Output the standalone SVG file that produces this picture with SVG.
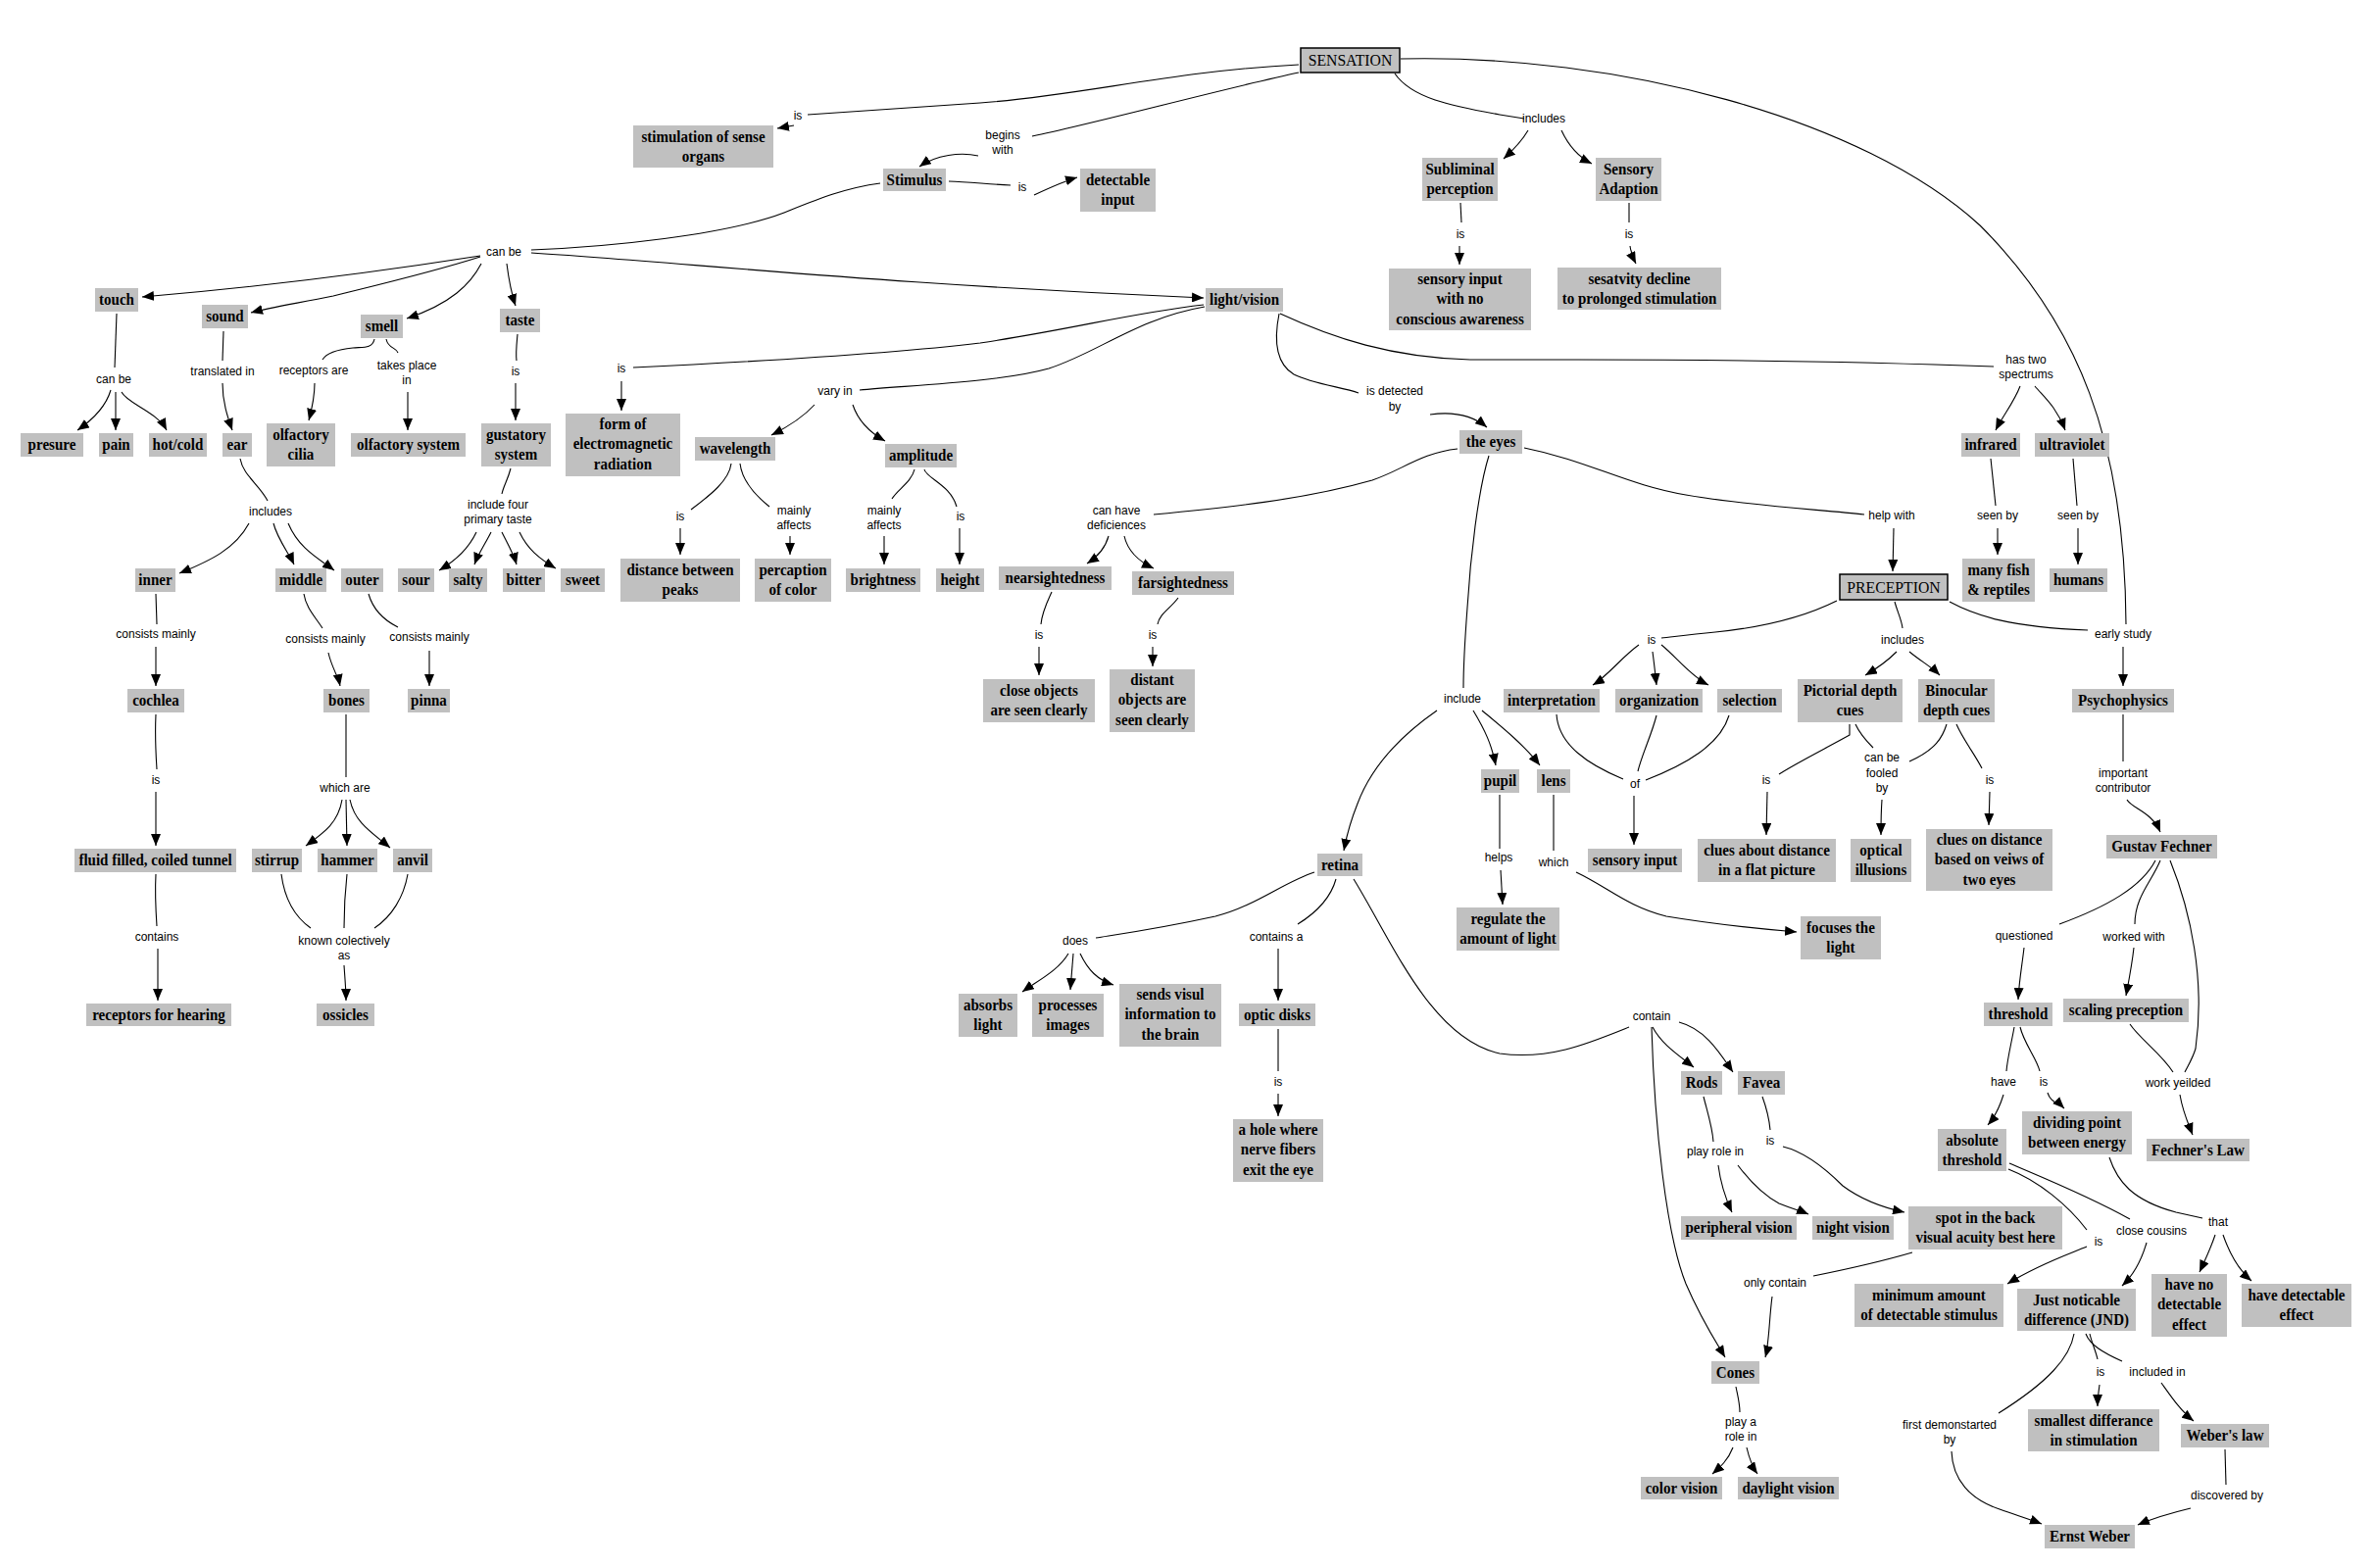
<svg xmlns="http://www.w3.org/2000/svg" width="2421" height="1600" viewBox="0 0 2421 1600">
<style>
.c{fill:none;stroke:#000;stroke-width:1.1}
.a{marker-end:url(#ah)}
.n rect{fill:#c0c0c0}
.n text{font-family:"Liberation Serif","Times New Roman",serif;font-weight:bold;font-size:17.5px;text-anchor:middle;fill:#000;transform-box:fill-box;transform-origin:center;transform:scaleX(0.86)}
.k rect{stroke:#000;stroke-width:1.5}
.k text{font-weight:normal;font-size:17.5px;transform:scaleX(0.9)}
.l{font-family:"Liberation Sans",Arial,sans-serif;font-size:12px;text-anchor:middle;fill:#000}
</style>
<defs>
<marker id="ah" viewBox="0 0 12 10" refX="12" refY="5" markerWidth="12" markerHeight="10" markerUnits="userSpaceOnUse" orient="auto"><path d="M0,0 L12,5 L0,10 z" fill="#000"/></marker>
</defs>
<rect width="2421" height="1600" fill="#fff"/>
<g id="connectors">
<path class="c" d="M1325,66 C1200,72 1100,98 1000,105 C900,112 860,115 824,117"/>
<path class="c a" d="M810,128 L793,131"/>
<path class="c" d="M1325,74 C1250,90 1120,125 1053,139"/>
<path class="c a" d="M998,159 C980,155 955,158 938,170"/>
<path class="c" d="M1423,75 C1440,100 1480,108 1530,117 L1555,121"/>
<path class="c a" d="M1559,133 C1552,145 1545,152 1534,162"/>
<path class="c a" d="M1593,133 C1600,148 1610,160 1624,167"/>
<path class="c" d="M1429,60 C1650,55 1900,120 2020,230 C2120,330 2168,450 2169,637"/>
<path class="c" d="M968,185 C990,186 1010,188 1031,189"/>
<path class="c a" d="M1055,199 C1070,192 1085,185 1099,181"/>
<path class="c" d="M898,187 C860,192 830,205 800,217 C740,240 620,252 542,255"/>
<path class="c a" d="M542,258 C700,268 900,290 1228,304"/>
<path class="c a" d="M490,261 C420,272 300,290 145,303"/>
<path class="c a" d="M490,262 C440,278 380,292 340,302 C300,310 275,314 256,319"/>
<path class="c a" d="M491,269 C480,290 460,310 415,325"/>
<path class="c a" d="M517,269 C519,285 522,300 526,312"/>
<path class="c" d="M119,320 L117,375"/>
<path class="c a" d="M113,398 C108,415 95,428 79,439"/>
<path class="c a" d="M118,400 L118,439"/>
<path class="c a" d="M124,400 C130,412 160,420 170,439"/>
<path class="c" d="M228,338 L227,368"/>
<path class="c a" d="M227,391 C227,410 232,425 237,439"/>
<path class="c" d="M382,346 C380,356 370,354 360,355 C340,357 332,362 329,367"/>
<path class="c a" d="M321,391 C321,405 318,418 315,429"/>
<path class="c" d="M394,346 C396,356 404,354 406,360"/>
<path class="c a" d="M416,400 L416,439"/>
<path class="c" d="M528,341 C527,352 526,360 527,368"/>
<path class="c a" d="M526,391 L526,429"/>
<path class="c" d="M521,478 C518,490 514,495 512,504"/>
<path class="c a" d="M486,543 C478,560 465,572 448,582"/>
<path class="c a" d="M501,543 C495,555 488,565 484,576"/>
<path class="c a" d="M512,543 C518,555 524,565 527,576"/>
<path class="c a" d="M530,543 C538,560 550,570 567,580"/>
<path class="c" d="M245,468 C248,485 265,495 273,511"/>
<path class="c a" d="M254,534 C240,560 215,572 183,585"/>
<path class="c a" d="M279,534 C283,550 295,565 300,576"/>
<path class="c a" d="M294,534 C305,560 325,570 341,582"/>
<path class="c" d="M159,606 L160,637"/>
<path class="c a" d="M159,660 L159,700"/>
<path class="c" d="M310,606 C312,620 322,630 329,641"/>
<path class="c a" d="M335,666 C338,680 345,690 347,700"/>
<path class="c" d="M376,606 C380,620 390,632 406,640"/>
<path class="c a" d="M438,664 L438,700"/>
<path class="c" d="M159,729 C158,750 159,770 160,785"/>
<path class="c a" d="M159,808 L159,863"/>
<path class="c" d="M159,892 C158,910 159,930 160,945"/>
<path class="c a" d="M161,968 L161,1021"/>
<path class="c" d="M353,729 L353,793"/>
<path class="c a" d="M349,816 C345,840 330,850 312,863"/>
<path class="c a" d="M353,816 L354,863"/>
<path class="c a" d="M357,816 C362,840 380,850 398,865"/>
<path class="c" d="M287,892 C290,915 300,935 317,947"/>
<path class="c" d="M354,892 C352,910 351,930 351,947"/>
<path class="c" d="M416,892 C412,915 400,935 382,947"/>
<path class="c a" d="M351,985 C352,1000 353,1010 353,1021"/>
<path class="c" d="M1228,311 C1150,320 1100,335 1000,350 C900,362 750,370 646,375"/>
<path class="c a" d="M634,389 L634,419"/>
<path class="c" d="M1229,313 C1160,325 1120,360 1070,376 C1020,390 930,393 877,398"/>
<path class="c a" d="M831,413 C820,425 805,435 787,444"/>
<path class="c a" d="M870,413 C875,428 885,440 903,450"/>
<path class="c" d="M1305,320 C1300,345 1300,370 1320,382 C1340,392 1370,395 1386,401"/>
<path class="c a" d="M1459,423 C1480,420 1500,422 1517,436"/>
<path class="c" d="M1306,320 C1360,345 1420,365 1500,367 L1610,367 C1750,367 1900,369 2034,374"/>
<path class="c" d="M746,473 C744,490 725,505 705,520"/>
<path class="c a" d="M694,539 L694,566"/>
<path class="c" d="M755,473 C757,490 770,505 785,517"/>
<path class="c a" d="M806,547 L806,566"/>
<path class="c" d="M933,479 C930,492 915,500 910,509"/>
<path class="c a" d="M902,547 L902,576"/>
<path class="c" d="M943,479 C945,488 970,495 976,517"/>
<path class="c a" d="M979,539 L979,576"/>
<path class="c" d="M1487,458 C1450,462 1430,480 1400,490 C1330,510 1250,518 1177,525"/>
<path class="c a" d="M1131,547 C1128,558 1120,568 1109,575"/>
<path class="c a" d="M1147,547 C1150,560 1160,572 1177,580"/>
<path class="c" d="M1073,604 C1068,615 1063,625 1062,637"/>
<path class="c a" d="M1060,660 L1060,689"/>
<path class="c" d="M1202,610 C1195,620 1183,626 1181,637"/>
<path class="c a" d="M1176,660 L1176,680"/>
<path class="c" d="M1519,465 C1508,500 1500,570 1497,620 C1494,660 1493,685 1493,702"/>
<path class="c" d="M1555,457 C1620,470 1660,495 1720,505 C1790,517 1860,520 1902,525"/>
<path class="c a" d="M1932,539 L1931,583"/>
<path class="c a" d="M1466,725 C1430,750 1400,780 1385,820 C1375,845 1373,858 1371,868"/>
<path class="c a" d="M1503,725 C1515,745 1522,760 1526,781"/>
<path class="c a" d="M1512,725 C1530,740 1555,760 1571,781"/>
<path class="c" d="M1530,811 L1530,866"/>
<path class="c a" d="M1531,888 L1533,923"/>
<path class="c" d="M1585,811 L1585,868"/>
<path class="c a" d="M1608,890 C1640,905 1660,925 1700,935 C1760,945 1800,948 1833,951"/>
<path class="c" d="M1341,890 C1310,900 1280,925 1240,935 C1180,948 1150,952 1118,957"/>
<path class="c a" d="M1090,973 C1080,990 1060,1000 1043,1012"/>
<path class="c a" d="M1095,973 L1092,1010"/>
<path class="c a" d="M1102,973 C1110,990 1120,1000 1136,1005"/>
<path class="c" d="M1363,897 C1358,915 1345,930 1324,943"/>
<path class="c a" d="M1304,968 L1304,1021"/>
<path class="c" d="M1304,1050 L1304,1093"/>
<path class="c a" d="M1304,1116 L1304,1139"/>
<path class="c" d="M1381,897 C1420,960 1460,1060 1530,1075 C1580,1082 1620,1065 1662,1048"/>
<path class="c a" d="M1686,1048 C1695,1065 1710,1075 1728,1089"/>
<path class="c a" d="M1713,1043 C1740,1050 1755,1075 1768,1094"/>
<path class="c a" d="M1685,1048 C1688,1150 1700,1260 1720,1310 C1735,1345 1748,1365 1760,1385"/>
<path class="c" d="M1738,1119 C1742,1135 1747,1150 1748,1165"/>
<path class="c a" d="M1753,1189 C1755,1205 1760,1222 1767,1237"/>
<path class="c a" d="M1773,1189 C1785,1205 1800,1220 1815,1228 C1830,1234 1838,1236 1845,1239"/>
<path class="c" d="M1798,1119 C1802,1130 1805,1142 1806,1153"/>
<path class="c a" d="M1819,1170 C1840,1175 1860,1190 1880,1210 C1900,1225 1920,1232 1943,1237"/>
<path class="c" d="M1951,1278 C1910,1290 1875,1297 1850,1302"/>
<path class="c a" d="M1808,1323 C1805,1345 1805,1370 1801,1385"/>
<path class="c" d="M1771,1415 C1773,1425 1775,1432 1775,1441"/>
<path class="c a" d="M1768,1477 C1763,1490 1755,1497 1747,1504"/>
<path class="c a" d="M1782,1477 C1785,1490 1788,1497 1793,1504"/>
<path class="c" d="M1874,613 C1840,630 1800,640 1750,645 C1720,648 1705,650 1695,651"/>
<path class="c a" d="M1672,658 C1655,670 1640,690 1625,699"/>
<path class="c a" d="M1686,665 C1688,680 1689,690 1690,699"/>
<path class="c a" d="M1695,658 C1710,670 1725,690 1743,699"/>
<path class="c" d="M1588,729 C1590,760 1620,780 1656,795"/>
<path class="c" d="M1690,730 C1685,750 1675,770 1671,787"/>
<path class="c" d="M1764,730 C1755,760 1720,780 1679,796"/>
<path class="c a" d="M1667,812 L1667,862"/>
<path class="c" d="M1933,614 C1936,625 1940,632 1941,641"/>
<path class="c a" d="M1935,665 C1925,675 1915,682 1903,689"/>
<path class="c a" d="M1948,665 C1960,675 1970,680 1979,689"/>
<path class="c" d="M1887,739 L1887,750 C1860,765 1830,780 1815,790"/>
<path class="c a" d="M1803,808 L1802,852"/>
<path class="c" d="M1893,739 C1898,750 1905,757 1911,763"/>
<path class="c a" d="M1920,816 C1919,830 1919,840 1919,852"/>
<path class="c" d="M1986,739 C1982,752 1975,765 1948,777"/>
<path class="c" d="M1996,739 C2003,755 2015,770 2022,784"/>
<path class="c a" d="M2030,808 L2029,842"/>
<path class="c" d="M1989,614 C2015,628 2050,640 2130,643"/>
<path class="c a" d="M2166,660 L2166,700"/>
<path class="c" d="M2166,729 L2166,777"/>
<path class="c a" d="M2170,816 C2175,825 2195,828 2204,849"/>
<path class="c" d="M2199,878 C2185,905 2150,925 2101,943"/>
<path class="c a" d="M2065,967 C2063,985 2060,1000 2059,1020"/>
<path class="c" d="M2204,878 C2195,900 2178,915 2178,943"/>
<path class="c a" d="M2177,967 C2175,985 2172,1000 2169,1016"/>
<path class="c" d="M2214,878 C2235,930 2250,1000 2240,1070 C2237,1080 2232,1088 2229,1094"/>
<path class="c" d="M2173,1045 C2183,1060 2205,1075 2217,1094"/>
<path class="c a" d="M2224,1117 C2227,1135 2232,1145 2237,1158"/>
<path class="c" d="M2055,1048 C2052,1065 2048,1080 2047,1093"/>
<path class="c a" d="M2044,1117 C2040,1130 2035,1140 2028,1148"/>
<path class="c" d="M2061,1048 C2065,1065 2078,1080 2081,1093"/>
<path class="c a" d="M2089,1115 C2092,1125 2100,1125 2106,1131"/>
<path class="c" d="M2152,1181 C2160,1205 2175,1225 2220,1237 L2247,1243"/>
<path class="c a" d="M2260,1260 C2255,1275 2250,1285 2244,1298"/>
<path class="c a" d="M2268,1260 C2275,1280 2283,1295 2297,1307"/>
<path class="c" d="M2049,1193 C2080,1205 2110,1230 2129,1255"/>
<path class="c a" d="M2129,1272 C2110,1280 2080,1290 2048,1310"/>
<path class="c" d="M2050,1187 C2080,1200 2130,1220 2173,1244"/>
<path class="c a" d="M2190,1268 C2185,1285 2178,1300 2165,1312"/>
<path class="c" d="M2132,1361 C2134,1370 2138,1378 2140,1387"/>
<path class="c a" d="M2142,1413 C2141,1420 2140,1428 2140,1435"/>
<path class="c" d="M2128,1361 C2132,1372 2145,1380 2165,1389"/>
<path class="c a" d="M2205,1411 C2215,1425 2225,1440 2238,1450"/>
<path class="c" d="M2116,1361 C2112,1385 2090,1410 2039,1442"/>
<path class="c a" d="M1991,1481 C1992,1510 2010,1530 2040,1540 C2060,1547 2070,1550 2083,1555"/>
<path class="c" d="M2270,1479 L2271,1515"/>
<path class="c a" d="M2235,1539 C2210,1545 2195,1550 2181,1556"/>
<path class="c a" d="M2061,394 C2055,410 2043,425 2036,439"/>
<path class="c a" d="M2076,394 C2085,405 2098,415 2107,439"/>
<path class="c" d="M2031,468 L2036,516"/>
<path class="c a" d="M2038,539 L2038,566"/>
<path class="c" d="M2115,468 L2119,516"/>
<path class="c a" d="M2120,539 L2120,576"/>
<path class="c" d="M1490,207 L1491,227"/>
<path class="c a" d="M1489,251 L1489,270"/>
<path class="c" d="M1662,207 L1662,227"/>
<path class="c a" d="M1663,251 C1664,258 1666,263 1669,269"/>
</g>
<g id="link-labels" class="l">
<text x="814" y="122">is</text>
<text x="1023" y="142">begins</text><text x="1023" y="157">with</text>
<text x="1043" y="195">is</text>
<text x="1575" y="125">includes</text>
<text x="1490" y="243">is</text>
<text x="1662" y="243">is</text>
<text x="514" y="261">can be</text>
<text x="116" y="391">can be</text>
<text x="227" y="383">translated in</text>
<text x="320" y="382">receptors are</text>
<text x="415" y="377">takes place</text><text x="415" y="392">in</text>
<text x="526" y="383">is</text>
<text x="634" y="380">is</text>
<text x="852" y="403">vary in</text>
<text x="1423" y="403">is detected</text><text x="1423" y="419">by</text>
<text x="2067" y="371">has two</text><text x="2067" y="386">spectrums</text>
<text x="276" y="526">includes</text>
<text x="508" y="519">include four</text><text x="508" y="534">primary taste</text>
<text x="694" y="531">is</text>
<text x="810" y="525">mainly</text><text x="810" y="540">affects</text>
<text x="902" y="525">mainly</text><text x="902" y="540">affects</text>
<text x="980" y="531">is</text>
<text x="1139" y="525">can have</text><text x="1139" y="540">deficiences</text>
<text x="1930" y="530">help with</text>
<text x="2038" y="530">seen by</text>
<text x="2120" y="530">seen by</text>
<text x="159" y="651">consists mainly</text>
<text x="332" y="656">consists mainly</text>
<text x="438" y="654">consists mainly</text>
<text x="1060" y="652">is</text>
<text x="1176" y="652">is</text>
<text x="1685" y="657">is</text>
<text x="1941" y="657">includes</text>
<text x="2166" y="651">early study</text>
<text x="1492" y="717">include</text>
<text x="159" y="800">is</text>
<text x="352" y="808">which are</text>
<text x="1668" y="804">of</text>
<text x="1802" y="800">is</text>
<text x="1920" y="777">can be</text><text x="1920" y="793">fooled</text><text x="1920" y="808">by</text>
<text x="2030" y="800">is</text>
<text x="2166" y="793">important</text><text x="2166" y="808">contributor</text>
<text x="1529" y="879">helps</text>
<text x="1585" y="884">which</text>
<text x="160" y="960">contains</text>
<text x="351" y="964">known colectively</text><text x="351" y="979">as</text>
<text x="1097" y="964">does</text>
<text x="1302" y="960">contains a</text>
<text x="2065" y="959">questioned</text>
<text x="2177" y="960">worked with</text>
<text x="1685" y="1041">contain</text>
<text x="1304" y="1108">is</text>
<text x="2044" y="1108">have</text>
<text x="2085" y="1108">is</text>
<text x="2222" y="1109">work yeilded</text>
<text x="1806" y="1168">is</text>
<text x="1750" y="1179">play role in</text>
<text x="2263" y="1251">that</text>
<text x="2195" y="1260">close cousins</text>
<text x="2141" y="1271">is</text>
<text x="1811" y="1313">only contain</text>
<text x="2143" y="1404">is</text>
<text x="2201" y="1404">included in</text>
<text x="1776" y="1455">play a</text><text x="1776" y="1470">role in</text>
<text x="1989" y="1458">first demonstarted</text><text x="1989" y="1473">by</text>
<text x="2272" y="1530">discovered by</text>
</g>
<g id="sensation" class="n k"><rect x="1327" y="49" width="101" height="25"/><text x="1377.5" y="67.5">SENSATION</text></g>
<g id="stimulation" class="n"><rect x="646" y="128" width="143" height="43"/><text><tspan x="717.5" y="145">stimulation of sense</tspan><tspan x="717.5" y="165">organs</tspan></text></g>
<g id="stimulus" class="n"><rect x="901" y="172" width="64" height="23"/><text x="933" y="189.5">Stimulus</text></g>
<g id="detectable-input" class="n"><rect x="1102" y="172" width="77" height="44"/><text><tspan x="1140.5" y="189">detectable</tspan><tspan x="1140.5" y="209">input</tspan></text></g>
<g id="subliminal" class="n"><rect x="1451" y="161" width="77" height="44"/><text><tspan x="1489.5" y="178">Subliminal</tspan><tspan x="1489.5" y="198">perception</tspan></text></g>
<g id="sensory-adaption" class="n"><rect x="1628" y="161" width="67" height="44"/><text><tspan x="1661.5" y="178">Sensory</tspan><tspan x="1661.5" y="198">Adaption</tspan></text></g>
<g id="no-awareness" class="n"><rect x="1417" y="274" width="145" height="63"/><text><tspan x="1489.5" y="290">sensory input</tspan><tspan x="1489.5" y="310.5">with no</tspan><tspan x="1489.5" y="331">conscious awareness</tspan></text></g>
<g id="sesatvity" class="n"><rect x="1589" y="273" width="167" height="43"/><text><tspan x="1672.5" y="290">sesatvity decline</tspan><tspan x="1672.5" y="310">to prolonged stimulation</tspan></text></g>
<g id="touch" class="n"><rect x="97" y="294" width="44" height="24"/><text x="119" y="311.5">touch</text></g>
<g id="sound" class="n"><rect x="206" y="311" width="47" height="24"/><text x="229.5" y="328.5">sound</text></g>
<g id="smell" class="n"><rect x="368" y="321" width="43" height="24"/><text x="389.5" y="338.5">smell</text></g>
<g id="taste" class="n"><rect x="510" y="315" width="41" height="24"/><text x="530.5" y="332.5">taste</text></g>
<g id="light-vision" class="n"><rect x="1230" y="294" width="79" height="24"/><text x="1269.5" y="311.5">light/vision</text></g>
<g id="presure" class="n"><rect x="21" y="442" width="64" height="24"/><text x="53" y="459.5">presure</text></g>
<g id="pain" class="n"><rect x="101" y="442" width="35" height="24"/><text x="118.5" y="459.5">pain</text></g>
<g id="hot-cold" class="n"><rect x="152" y="442" width="59" height="24"/><text x="181.5" y="459.5">hot/cold</text></g>
<g id="ear" class="n"><rect x="227" y="442" width="30" height="24"/><text x="242" y="459.5">ear</text></g>
<g id="olfactory-cilia" class="n"><rect x="272" y="432" width="70" height="44"/><text><tspan x="307" y="449">olfactory</tspan><tspan x="307" y="469">cilia</tspan></text></g>
<g id="olfactory-system" class="n"><rect x="358" y="442" width="117" height="24"/><text x="416.5" y="459.5">olfactory system</text></g>
<g id="gustatory" class="n"><rect x="491" y="432" width="71" height="44"/><text><tspan x="526.5" y="449">gustatory</tspan><tspan x="526.5" y="469">system</tspan></text></g>
<g id="electromagnetic" class="n"><rect x="577" y="422" width="117" height="64"/><text><tspan x="635.5" y="438">form of</tspan><tspan x="635.5" y="458.5">electromagnetic</tspan><tspan x="635.5" y="479">radiation</tspan></text></g>
<g id="wavelength" class="n"><rect x="709" y="446" width="82" height="24"/><text x="750" y="463.5">wavelength</text></g>
<g id="amplitude" class="n"><rect x="903" y="453" width="73" height="24"/><text x="939.5" y="470.5">amplitude</text></g>
<g id="the-eyes" class="n"><rect x="1489" y="439" width="64" height="24"/><text x="1521" y="456.5">the eyes</text></g>
<g id="infrared" class="n"><rect x="2001" y="442" width="60" height="24"/><text x="2031" y="459.5">infrared</text></g>
<g id="ultraviolet" class="n"><rect x="2076" y="442" width="76" height="24"/><text x="2114" y="459.5">ultraviolet</text></g>
<g id="inner" class="n"><rect x="138" y="580" width="41" height="24"/><text x="158.5" y="597.5">inner</text></g>
<g id="middle" class="n"><rect x="281" y="580" width="52" height="24"/><text x="307" y="597.5">middle</text></g>
<g id="outer" class="n"><rect x="348" y="580" width="43" height="24"/><text x="369.5" y="597.5">outer</text></g>
<g id="sour" class="n"><rect x="406" y="580" width="37" height="24"/><text x="424.5" y="597.5">sour</text></g>
<g id="salty" class="n"><rect x="458" y="580" width="39" height="24"/><text x="477.5" y="597.5">salty</text></g>
<g id="bitter" class="n"><rect x="513" y="580" width="43" height="24"/><text x="534.5" y="597.5">bitter</text></g>
<g id="sweet" class="n"><rect x="572" y="580" width="45" height="24"/><text x="594.5" y="597.5">sweet</text></g>
<g id="distance-peaks" class="n"><rect x="633" y="570" width="122" height="44"/><text><tspan x="694" y="587">distance between</tspan><tspan x="694" y="607">peaks</tspan></text></g>
<g id="percaption-color" class="n"><rect x="770" y="570" width="78" height="44"/><text><tspan x="809" y="587">percaption</tspan><tspan x="809" y="607">of color</tspan></text></g>
<g id="brightness" class="n"><rect x="863" y="580" width="76" height="24"/><text x="901" y="597.5">brightness</text></g>
<g id="height" class="n"><rect x="955" y="580" width="49" height="24"/><text x="979.5" y="597.5">height</text></g>
<g id="nearsightedness" class="n"><rect x="1019" y="578" width="115" height="24"/><text x="1076.5" y="595.5">nearsightedness</text></g>
<g id="farsightedness" class="n"><rect x="1155" y="583" width="104" height="24"/><text x="1207" y="600.5">farsightedness</text></g>
<g id="preception" class="n k"><rect x="1877" y="586" width="110" height="26"/><text x="1932" y="605.5">PRECEPTION</text></g>
<g id="many-fish" class="n"><rect x="2002" y="570" width="74" height="44"/><text><tspan x="2039" y="587">many fish</tspan><tspan x="2039" y="607">&amp; reptiles</tspan></text></g>
<g id="humans" class="n"><rect x="2091" y="580" width="59" height="24"/><text x="2120.5" y="597.5">humans</text></g>
<g id="close-objects" class="n"><rect x="1003" y="693" width="114" height="44"/><text><tspan x="1060" y="710">close objects</tspan><tspan x="1060" y="730">are seen clearly</tspan></text></g>
<g id="distant-objects" class="n"><rect x="1132" y="683" width="87" height="64"/><text><tspan x="1175.5" y="699">distant</tspan><tspan x="1175.5" y="719.5">objects are</tspan><tspan x="1175.5" y="740">seen clearly</tspan></text></g>
<g id="interpretation" class="n"><rect x="1534" y="703" width="98" height="24"/><text x="1583" y="720.5">interpretation</text></g>
<g id="organization" class="n"><rect x="1648" y="703" width="89" height="24"/><text x="1692.5" y="720.5">organization</text></g>
<g id="selection" class="n"><rect x="1752" y="703" width="66" height="24"/><text x="1785" y="720.5">selection</text></g>
<g id="pictorial" class="n"><rect x="1834" y="693" width="107" height="44"/><text><tspan x="1887.5" y="710">Pictorial depth</tspan><tspan x="1887.5" y="730">cues</tspan></text></g>
<g id="binocular" class="n"><rect x="1957" y="693" width="78" height="44"/><text><tspan x="1996" y="710">Binocular</tspan><tspan x="1996" y="730">depth cues</tspan></text></g>
<g id="psychophysics" class="n"><rect x="2114" y="703" width="104" height="24"/><text x="2166" y="720.5">Psychophysics</text></g>
<g id="cochlea" class="n"><rect x="130" y="703" width="58" height="24"/><text x="159" y="720.5">cochlea</text></g>
<g id="bones" class="n"><rect x="330" y="703" width="47" height="24"/><text x="353.5" y="720.5">bones</text></g>
<g id="pinna" class="n"><rect x="416" y="703" width="43" height="24"/><text x="437.5" y="720.5">pinna</text></g>
<g id="pupil" class="n"><rect x="1511" y="785" width="39" height="24"/><text x="1530.5" y="802.5">pupil</text></g>
<g id="lens" class="n"><rect x="1568" y="785" width="34" height="24"/><text x="1585" y="802.5">lens</text></g>
<g id="sensory-input" class="n"><rect x="1620" y="866" width="96" height="24"/><text x="1668" y="883.5">sensory input</text></g>
<g id="clues-flat" class="n"><rect x="1732" y="856" width="141" height="44"/><text><tspan x="1802.5" y="873">clues about distance</tspan><tspan x="1802.5" y="893">in a flat picture</tspan></text></g>
<g id="optical-illusions" class="n"><rect x="1888" y="856" width="62" height="44"/><text><tspan x="1919" y="873">optical</tspan><tspan x="1919" y="893">illusions</tspan></text></g>
<g id="clues-two-eyes" class="n"><rect x="1965" y="846" width="129" height="63"/><text><tspan x="2029.5" y="862">clues on distance</tspan><tspan x="2029.5" y="882.5">based on veiws of</tspan><tspan x="2029.5" y="903">two eyes</tspan></text></g>
<g id="gustav-fechner" class="n"><rect x="2149" y="852" width="113" height="24"/><text x="2205.5" y="869.5">Gustav Fechner</text></g>
<g id="fluid-filled" class="n"><rect x="76" y="866" width="165" height="24"/><text x="158.5" y="883.5">fluid filled, coiled tunnel</text></g>
<g id="stirrup" class="n"><rect x="257" y="866" width="51" height="24"/><text x="282.5" y="883.5">stirrup</text></g>
<g id="hammer" class="n"><rect x="324" y="866" width="61" height="24"/><text x="354.5" y="883.5">hammer</text></g>
<g id="anvil" class="n"><rect x="401" y="866" width="40" height="24"/><text x="421" y="883.5">anvil</text></g>
<g id="retina" class="n"><rect x="1344" y="871" width="46" height="23"/><text x="1367" y="888.5">retina</text></g>
<g id="regulate" class="n"><rect x="1486" y="926" width="105" height="44"/><text><tspan x="1538.5" y="943">regulate the</tspan><tspan x="1538.5" y="963">amount of light</tspan></text></g>
<g id="focuses" class="n"><rect x="1837" y="935" width="82" height="44"/><text><tspan x="1878" y="952">focuses the</tspan><tspan x="1878" y="972">light</tspan></text></g>
<g id="absorbs" class="n"><rect x="978" y="1014" width="60" height="44"/><text><tspan x="1008" y="1031">absorbs</tspan><tspan x="1008" y="1051">light</tspan></text></g>
<g id="processes" class="n"><rect x="1053" y="1014" width="73" height="44"/><text><tspan x="1089.5" y="1031">processes</tspan><tspan x="1089.5" y="1051">images</tspan></text></g>
<g id="sends" class="n"><rect x="1142" y="1004" width="104" height="64"/><text><tspan x="1194" y="1020">sends visul</tspan><tspan x="1194" y="1040.5">information to</tspan><tspan x="1194" y="1061">the brain</tspan></text></g>
<g id="optic-disks" class="n"><rect x="1264" y="1024" width="78" height="23"/><text x="1303" y="1041.5">optic disks</text></g>
<g id="threshold" class="n"><rect x="2024" y="1023" width="70" height="24"/><text x="2059" y="1040.5">threshold</text></g>
<g id="scaling" class="n"><rect x="2105" y="1019" width="128" height="24"/><text x="2169" y="1036.5">scaling preception</text></g>
<g id="receptors-hearing" class="n"><rect x="88" y="1024" width="148" height="23"/><text x="162" y="1041.5">receptors for hearing</text></g>
<g id="ossicles" class="n"><rect x="323" y="1024" width="59" height="23"/><text x="352.5" y="1041.5">ossicles</text></g>
<g id="rods" class="n"><rect x="1715" y="1093" width="42" height="24"/><text x="1736" y="1110.5">Rods</text></g>
<g id="favea" class="n"><rect x="1773" y="1093" width="48" height="24"/><text x="1797" y="1110.5">Favea</text></g>
<g id="hole" class="n"><rect x="1258" y="1142" width="92" height="64"/><text><tspan x="1304" y="1158">a hole where</tspan><tspan x="1304" y="1178.5">nerve fibers</tspan><tspan x="1304" y="1199">exit the eye</tspan></text></g>
<g id="absolute-threshold" class="n"><rect x="1977" y="1152" width="70" height="43"/><text><tspan x="2012" y="1169">absolute</tspan><tspan x="2012" y="1189">threshold</tspan></text></g>
<g id="dividing-point" class="n"><rect x="2063" y="1134" width="112" height="44"/><text><tspan x="2119" y="1151">dividing point</tspan><tspan x="2119" y="1171">between energy</tspan></text></g>
<g id="fechners-law" class="n"><rect x="2190" y="1162" width="105" height="23"/><text x="2242.5" y="1179.5">Fechner's Law</text></g>
<g id="peripheral" class="n"><rect x="1715" y="1241" width="118" height="24"/><text x="1774" y="1258.5">peripheral vision</text></g>
<g id="night-vision" class="n"><rect x="1849" y="1241" width="83" height="24"/><text x="1890.5" y="1258.5">night vision</text></g>
<g id="spot" class="n"><rect x="1947" y="1231" width="157" height="44"/><text><tspan x="2025.5" y="1248">spot in the back</tspan><tspan x="2025.5" y="1268">visual acuity best here</tspan></text></g>
<g id="minimum" class="n"><rect x="1892" y="1310" width="152" height="44"/><text><tspan x="1968" y="1327">minimum amount</tspan><tspan x="1968" y="1347">of detectable stimulus</tspan></text></g>
<g id="jnd" class="n"><rect x="2058" y="1315" width="121" height="43"/><text><tspan x="2118.5" y="1332">Just noticable</tspan><tspan x="2118.5" y="1352">difference (JND)</tspan></text></g>
<g id="no-effect" class="n"><rect x="2195" y="1300" width="77" height="64"/><text><tspan x="2233.5" y="1316">have no</tspan><tspan x="2233.5" y="1336.5">detectable</tspan><tspan x="2233.5" y="1357">effect</tspan></text></g>
<g id="detectable-effect" class="n"><rect x="2287" y="1310" width="112" height="44"/><text><tspan x="2343" y="1327">have detectable</tspan><tspan x="2343" y="1347">effect</tspan></text></g>
<g id="cones" class="n"><rect x="1746" y="1389" width="49" height="23"/><text x="1770.5" y="1406.5">Cones</text></g>
<g id="smallest" class="n"><rect x="2069" y="1438" width="134" height="43"/><text><tspan x="2136" y="1455">smallest differance</tspan><tspan x="2136" y="1475">in stimulation</tspan></text></g>
<g id="webers-law" class="n"><rect x="2225" y="1453" width="90" height="24"/><text x="2270" y="1470.5">Weber's law</text></g>
<g id="color-vision" class="n"><rect x="1674" y="1507" width="83" height="23"/><text x="1715.5" y="1524.5">color vision</text></g>
<g id="daylight-vision" class="n"><rect x="1773" y="1507" width="103" height="23"/><text x="1824.5" y="1524.5">daylight vision</text></g>
<g id="ernst-weber" class="n"><rect x="2086" y="1556" width="92" height="24"/><text x="2132" y="1573.5">Ernst Weber</text></g>
</svg>
